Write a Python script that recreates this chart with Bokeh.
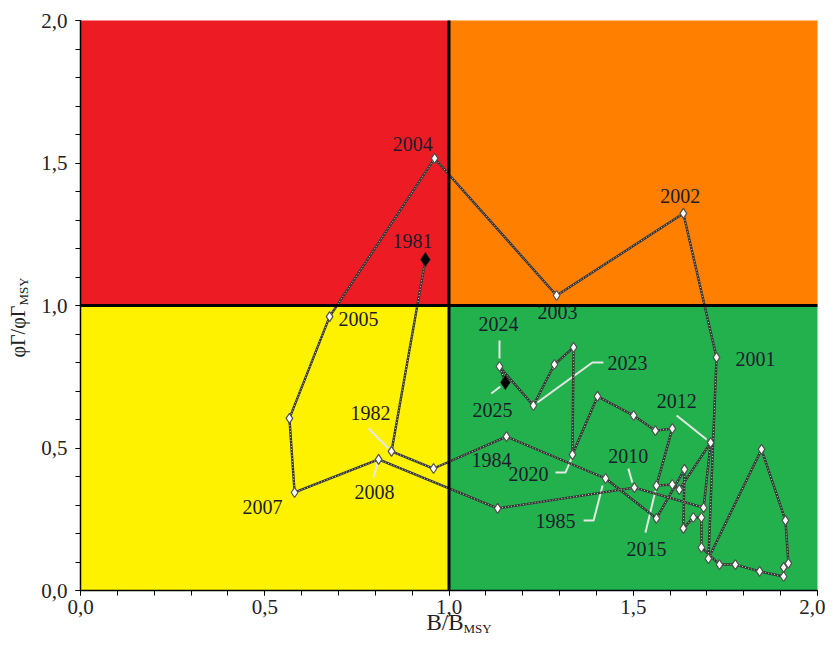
import numpy as np
from bokeh.plotting import figure
from bokeh.models import Range1d, FixedTicker, CustomJSTickFormatter
from bokeh.core.properties import value
from bokeh.embed import file_html
from bokeh.resources import INLINE

# ---------------- data ----------------
years = list(range(1981, 2026))
b_bmsy = [0.936, 0.844, 0.958, 1.156, 1.425, 1.563, 1.639, 1.636, 1.663, 1.685,
          1.685, 1.734, 1.777, 1.843, 1.908, 1.908, 1.921, 1.913, 1.848, 1.704,
          1.726, 1.636, 1.292, 0.961, 0.676, 0.567, 0.581, 0.809, 1.132, 1.503,
          1.691, 1.710, 1.625, 1.606, 1.563, 1.606, 1.560, 1.501, 1.403, 1.335,
          1.338, 1.286, 1.229, 1.137, 1.153]
f_fmsy = [1.161, 0.488, 0.428, 0.540, 0.393, 0.253, 0.425, 0.218, 0.256, 0.256,
          0.151, 0.091, 0.091, 0.067, 0.049, 0.081, 0.095, 0.246, 0.495, 0.112,
          0.818, 1.323, 1.035, 1.516, 0.961, 0.604, 0.344, 0.460, 0.288, 0.361,
          0.291, 0.519, 0.354, 0.372, 0.368, 0.568, 0.561, 0.614, 0.681, 0.477,
          0.853, 0.793, 0.649, 0.786, 0.730]
axis_ticks = [0.0, 0.5, 1.0, 1.5, 2.0]
labeled_years = [1981, 1982, 1984, 1985, 2001, 2002, 2003, 2004, 2005, 2007,
                 2008, 2010, 2012, 2015, 2020, 2023, 2024, 2025]

# ---------------- layout / annotation placement (screen px) ----------------
W, H = 825, 637
ML, MT = 80, 20          # position of the 0..2 plotting square
FW, FH = 737, 570
PXX, PXY = FW / 2.0, FH / 2.0

def dx_(px):
    return (px - ML) / PXX

def dy_(py):
    return (MT + FH - py) / PXY

label_off = {1981: (-13, -19), 1982: (-21, -38), 1984: (-15, 23), 1985: (-50, 43),
             2001: (39, 2), 2002: (-3, -17), 2003: (1, 16), 2004: (-22, -14),
             2005: (29, 2), 2007: (-32, 15), 2008: (-4, 33), 2010: (-6, -32),
             2012: (-34, -42), 2015: (-10, 63), 2020: (-44, 19), 2023: (94, -43),
             2024: (-1, -42), 2025: (-13, 28)}
leader_off = {1982: [(-23, -23), (-3, -3)], 2008: [(-5, 18), (-1, 3)],
              2024: [(0, -26), (0, -8)], 2025: [(-14, 11), (-5, 4)],
              2023: [(70, -43), (59, -43), (4, -3)], 2012: [(-34, -27), (-4, -3)],
              2020: [(-17, 18), (-7, 18), (-1, 4)], 1985: [(-22, 42), (-12, 42), (-3, 7)],
              2010: [(-6, -19), (-2, -5)], 2015: [(-11, 47), (-1, 5)]}

idx = {y: i for i, y in enumerate(years)}

p = figure(width=W, height=H, output_backend="svg", toolbar_location=None,
           x_range=Range1d(dx_(0), dx_(W)), y_range=Range1d(dy_(H), dy_(0)),
           min_border=0)
p.outline_line_color = None
p.xgrid.visible = False
p.ygrid.visible = False
p.background_fill_color = "white"

# quadrants
p.quad(left=[0, 1, 0, 1], right=[1, 2, 1, 2], bottom=[1, 1, 0, 0], top=[2, 2, 1, 1],
       fill_color=["#ED1C24", "#FF7F00", "#FFF200", "#22B14C"], line_color=None)

# leader lines
lx, ly = [], []
for yr, pts in leader_off.items():
    i = idx[yr]
    lx.append([b_bmsy[i] + dx / PXX for dx, dy in pts])
    ly.append([f_fmsy[i] - dy / PXY for dx, dy in pts])
p.multi_line(lx, ly, line_color="#e6e6e6", line_width=2)

# trajectory
p.line(b_bmsy, f_fmsy, line_color="#333333", line_width=2.4)
p.line(b_bmsy, f_fmsy, line_color="#d0d0d0", line_width=1, line_dash="1 2")

# markers
p.scatter(b_bmsy[1:-1], f_fmsy[1:-1], marker="diamond", size=10,
          fill_color="white", line_color="#505050", line_width=1.2)
p.scatter([b_bmsy[0], b_bmsy[-1]], [f_fmsy[0], f_fmsy[-1]], marker="diamond",
          size=14, fill_color="black", line_color="#202020", line_width=1)

# year labels
tx = [b_bmsy[idx[y]] + label_off[y][0] / PXX for y in labeled_years]
ty = [f_fmsy[idx[y]] - label_off[y][1] / PXY for y in labeled_years]
p.text(tx, ty, text=[str(y) for y in labeled_years], text_font=value("Liberation Serif"),
       text_font_size="20px", text_color="#1c1c2c", text_align="center",
       text_baseline="middle")

# reference lines
p.segment(x0=[1, 0], y0=[0, 1], x1=[1, 2], y1=[2, 1], line_color="black", line_width=3)

# axes (kept at the 0 lines of the plotting square)
ticker = FixedTicker(ticks=axis_ticks, minor_ticks=list(np.round(np.arange(0, 2.01, 0.1), 1)))
fmt = CustomJSTickFormatter(code="return tick.toFixed(1).replace('.', ',');")
for ax in (p.xaxis[0], p.yaxis[0]):
    ax.fixed_location = 0
    ax.bounds = (0, 2)
    ax.ticker = ticker
    ax.formatter = fmt
    ax.axis_line_color = "black"
    ax.axis_line_width = 1.5
    ax.major_tick_line_color = "black"
    ax.minor_tick_line_color = "black"
    ax.major_tick_in = 0
    ax.major_tick_out = 5
    ax.minor_tick_in = 0
    ax.minor_tick_out = 5
    ax.major_label_text_font = "Liberation Serif"
    ax.major_label_text_font_size = "21px"
    ax.major_label_text_color = "#222222"
p.xaxis.major_label_standoff = 4
p.yaxis.major_label_standoff = 8

# axis titles
serif = value("Liberation Serif")
p.text([dx_(463)], [dy_(622)], text=["B/B"], text_font=serif, text_font_size="23px",
       text_color="#222222", text_align="right", text_baseline="middle")
p.text([dx_(463)], [dy_(628)], text=["MSY"], text_font=serif, text_font_size="13px",
       text_color="#222222", text_align="left", text_baseline="middle")
p.text([dx_(17)], [dy_(357)], text=["φΓ/φΓ"], angle=np.pi / 2, text_font=serif,
       text_font_size="20px", text_color="#222222", text_align="left",
       text_baseline="middle")
p.text([dx_(23)], [dy_(305)], text=["MSY"], angle=np.pi / 2, text_font=serif,
       text_font_size="13px", text_color="#222222", text_align="left",
       text_baseline="middle")

open("out.html", "w").write(file_html(p, INLINE))
